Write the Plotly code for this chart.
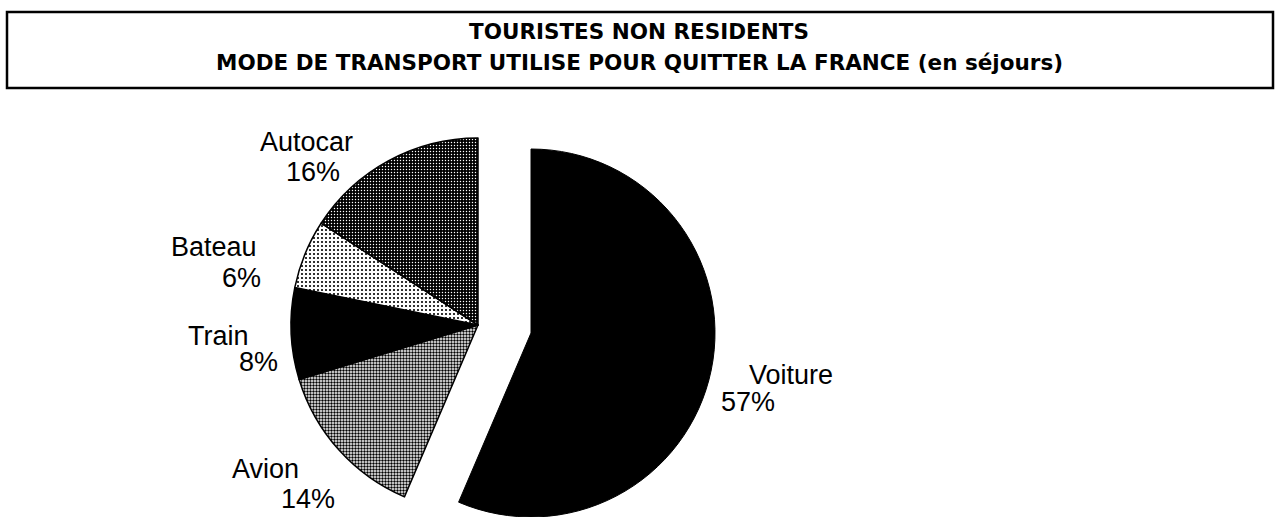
import plotly.graph_objects as go

# ---- data ----
labels = ["Voiture", "Avion", "Train", "Bateau", "Autocar"]
values = [57, 14, 8, 6, 16]
title_lines = ["TOURISTES NON RESIDENTS",
               "MODE DE TRANSPORT UTILISE POUR QUITTER LA FRANCE (en séjours)"]

W, H = 1277, 517
CLEAR = "rgba(0,0,0,0)"

def px_x(x):
    return x / W

def px_y(y):
    return 1 - y / H

def dom(cx, cy, r):
    return dict(x=[px_x(cx - r), px_x(cx + r)],
                y=[max(0, px_y(cy + r)), min(1, px_y(cy - r))])

# slice styles (halftone look)
fill_colors = ["black", "white", "black", "white", "black"]
pat_shape = ["", ".", "", ".", "."]
pat_fg = ["black", "black", "black", "black", "white"]
pat_bg = ["black", "white", "black", "white", "black"]
pat_size = [4, 3, 4, 4, 3]
pat_sol = [0.3, 0.5, 0.3, 0.22, 0.18]

fig = go.Figure()

# main pie (all slices except the exploded one)
fig.add_trace(go.Pie(
    labels=labels, values=values, sort=False, direction="clockwise", rotation=0,
    domain=dom(478, 325, 187), textinfo="none", hoverinfo="label+percent",
    showlegend=False,
    marker=dict(
        colors=[CLEAR] + fill_colors[1:],
        line=dict(color=[CLEAR] + ["black"] * 4, width=[0, 1.5, 1.5, 1.5, 1.5]),
        pattern=dict(shape=[""] + pat_shape[1:], fgcolor=pat_fg, bgcolor=[CLEAR] + pat_bg[1:],
                     size=pat_size, solidity=pat_sol, fillmode="replace"),
    ),
))

# exploded slice (Voiture)
fig.add_trace(go.Pie(
    labels=labels, values=values, sort=False, direction="clockwise", rotation=0,
    domain=dom(531, 333, 184), textinfo="none", hoverinfo="label+percent",
    showlegend=False,
    marker=dict(
        colors=[fill_colors[0]] + [CLEAR] * 4,
        line=dict(color=["black"] + [CLEAR] * 4, width=[1, 0, 0, 0, 0]),
    ),
))

# slice labels
lab_font = dict(family="Liberation Sans, Arial", size=27, color="black")
label_pos = {  # name line center, percent line center (pixels)
    "Voiture": ((791, 375), (748, 402)),
    "Avion": ((265, 469), (308, 499)),
    "Train": ((218, 336), (258, 362)),
    "Bateau": ((214, 247), (241, 278)),
    "Autocar": ((306, 142), (313, 172)),
}
annotations = []
for lab, val in zip(labels, values):
    (nx, ny), (vx, vy) = label_pos[lab]
    annotations.append(dict(x=px_x(nx), y=px_y(ny), xref="paper", yref="paper", text=lab,
                            showarrow=False, font=lab_font, xanchor="center", yanchor="middle"))
    annotations.append(dict(x=px_x(vx), y=px_y(vy), xref="paper", yref="paper", text=f"{val}%",
                            showarrow=False, font=lab_font, xanchor="center", yanchor="middle"))

# title
title_font = dict(family="DejaVu Sans, Lato, Liberation Sans", size=21.5, color="black", weight="bold")
for line, yy in zip(title_lines, [31, 62]):
    annotations.append(dict(x=px_x(639), y=px_y(yy), xref="paper", yref="paper", text=line,
                            showarrow=False, font=title_font, xanchor="center", yanchor="middle"))

fig.update_layout(
    width=W, height=H,
    margin=dict(l=0, r=0, t=0, b=0),
    paper_bgcolor="white", plot_bgcolor="white",
    annotations=annotations,
    shapes=[dict(type="rect", xref="paper", yref="paper",
                 x0=px_x(7), x1=px_x(1273), y0=px_y(88), y1=px_y(12),
                 line=dict(color="black", width=2.5))],
)

fig.write_html("out.html", config={"displayModeBar": False},
               post_script="document.body.style.margin='0';document.body.style.overflow='hidden';")
